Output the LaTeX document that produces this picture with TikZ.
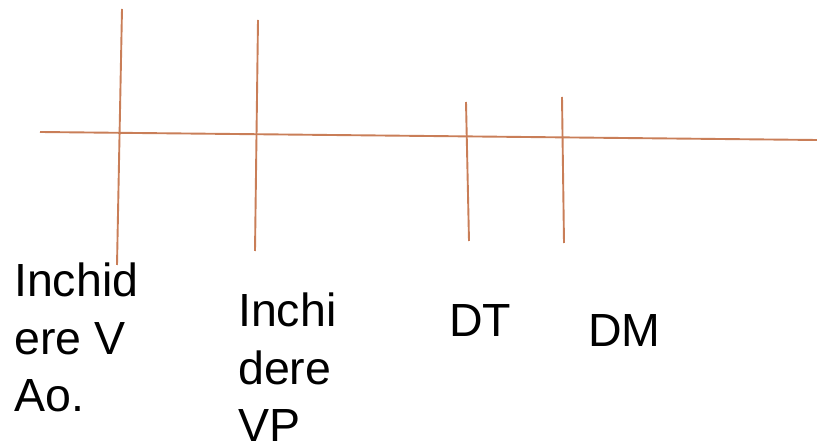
\documentclass[tikz,border=0pt]{standalone}
\usepackage{fontspec}
\setmainfont{Liberation Sans}
\definecolor{linec}{RGB}{201,126,88}
\begin{document}
\begin{tikzpicture}[x=1pt,y=-1pt,
  rule/.style={draw=linec,line width=1.9pt},
  lab/.style={inner sep=0pt,anchor=base west,align=left,font=\fontsize{46.5}{57.5}\selectfont}]
\useasboundingbox (0,0) rectangle (817,443);
\coordinate (hL) at (40,132);
\coordinate (hR) at (817,140);
\coordinate (v1t) at (122,9);   \coordinate (v1b) at (117,265);
\coordinate (v2t) at (258,20);  \coordinate (v2b) at (255,251);
\coordinate (v3t) at (466,102); \coordinate (v3b) at (469,241);
\coordinate (v4t) at (562,97);  \coordinate (v4b) at (564,243);
\draw[rule] (hL) -- (hR);
\draw[rule] (v1t) -- (v1b);
\draw[rule] (v2t) -- (v2b);
\draw[rule] (v3t) -- (v3b);
\draw[rule] (v4t) -- (v4b);
\node[lab] (a) at (14,412) {Inchid\\ere V\\Ao.};
\node[lab] (b) at (238,442) {Inchi\\dere\\VP};
\node[lab] (c) at (449,337) {DT};
\node[lab] (d) at (588,347) {DM};
\end{tikzpicture}
\end{document}
